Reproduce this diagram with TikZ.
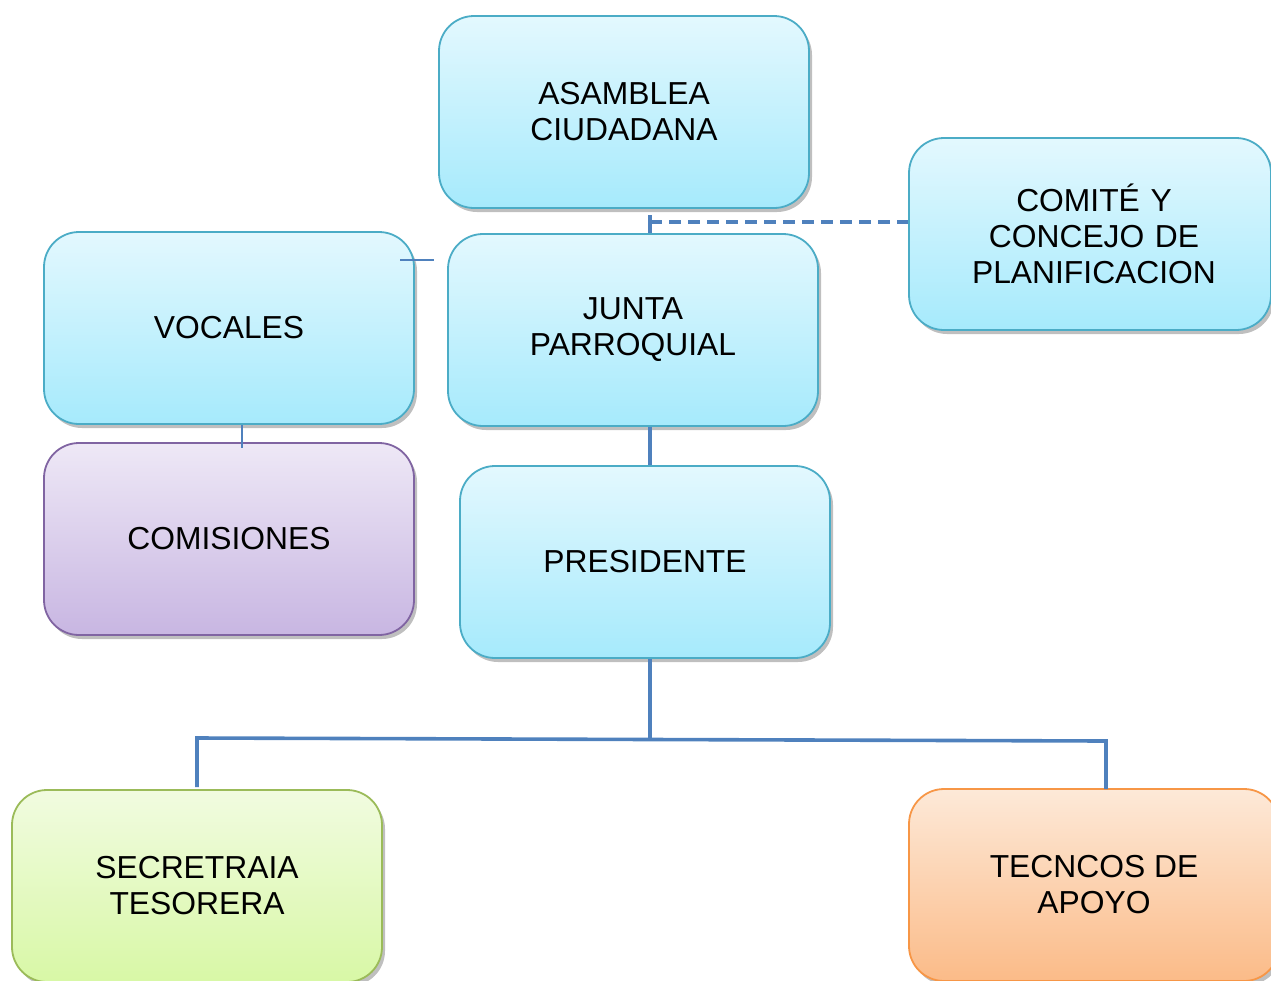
\documentclass[tikz,border=0pt]{standalone}
\usepackage{fontspec}
\setmainfont{Liberation Sans}
\usetikzlibrary{shadows}
\definecolor{cyanTop}{HTML}{E3F8FE}
\definecolor{cyanBot}{HTML}{A6EAFC}
\definecolor{cyanLine}{HTML}{4BACC6}
\definecolor{purTop}{HTML}{EEE8F6}
\definecolor{purBot}{HTML}{C8B6E2}
\definecolor{purLine}{HTML}{8064A2}
\definecolor{grnTop}{HTML}{F1FBE0}
\definecolor{grnBot}{HTML}{D8F8A6}
\definecolor{grnLine}{HTML}{9BBB59}
\definecolor{orgTop}{HTML}{FDE9D8}
\definecolor{orgBot}{HTML}{FBBB88}
\definecolor{orgLine}{HTML}{F79646}
\definecolor{connBlue}{HTML}{4F81BD}
\tikzset{
  orgbox/.style={rectangle, rounded corners=35pt, minimum width=370pt, minimum height=192pt,
    line width=1.8pt, align=center, inner sep=0pt,
    font=\fontsize{31.8}{36}\selectfont,
    drop shadow={shadow xshift=3pt, shadow yshift=-4pt, opacity=0.25, fill=black}},
  cyanbox/.style={orgbox, draw=cyanLine, top color=cyanTop, bottom color=cyanBot},
  purbox/.style={orgbox, draw=purLine, top color=purTop, bottom color=purBot},
  grnbox/.style={orgbox, draw=grnLine, top color=grnTop, bottom color=grnBot},
  orgbox2/.style={orgbox, draw=orgLine, top color=orgTop, bottom color=orgBot},
  conn/.style={draw=connBlue, line width=3.6pt},
  dconn/.style={conn, line width=4pt, dash pattern=on 12pt off 7pt},
  thinconn/.style={draw=connBlue, line width=1.6pt}
}
\begin{document}
\begin{tikzpicture}[x=1pt,y=-1pt]
\useasboundingbox (0,0) rectangle (1271,980);
\begin{scope}
\clip (0,0) rectangle (1271,980);
\node[cyanbox] (asamblea) at (624,112) {ASAMBLEA\\CIUDADANA};
\node[cyanbox, minimum width=362pt, text width=362pt, xshift=0pt] (comite) at (1090,234) {\hspace*{8pt}COMITÉ Y\\\hspace*{8pt}CONCEJO DE\\\hspace*{8pt}PLANIFICACION};
\node[cyanbox] (vocales) at (229,328) {VOCALES};
\node[cyanbox] (junta) at (633,330) {JUNTA\\PARROQUIAL};
\node[purbox] (comisiones) at (229,539) {COMISIONES};
\node[cyanbox] (presidente) at (645,562) {PRESIDENTE};
\node[grnbox] (secretaria) at (197,886) {SECRETRAIA\\TESORERA};
\node[orgbox2] (tecnicos) at (1094,885) {TECNCOS DE\\APOYO};
\end{scope}
% connectors
\coordinate (spine) at (650,0);
\coordinate (tA) at (650,215);
\coordinate (dA) at (650,222);
\draw[conn] (tA) -- (tA |- junta.north);
\draw[dconn] (dA) -- (dA -| comite.west);
\coordinate (vA) at (400,260);
\coordinate (vB) at (434,260);
\draw[thinconn] (vA) -- (vB);
\coordinate (cA) at (242,425);
\draw[thinconn] (cA) -- (cA |- 0,448);
\draw[conn] (junta.south -| spine) -- (presidente.north -| spine);
\coordinate (bar) at (650,738);
\coordinate (barL) at (197,738);
\coordinate (barR) at (1106,741);
\coordinate (endL) at (197,787);
\coordinate (endR) at (1106,789);
\draw[conn] (presidente.south -| spine) -- (bar);
\draw[conn] (endL) -- (barL) -- (barR) -- (endR);
\end{tikzpicture}
\end{document}
